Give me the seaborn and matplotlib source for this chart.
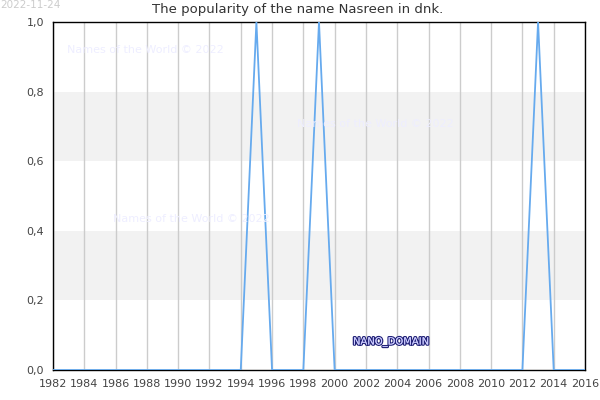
import matplotlib
matplotlib.use("Agg")
import matplotlib.pyplot as plt
import matplotlib.patheffects as pe
from matplotlib.ticker import FuncFormatter, MultipleLocator
import seaborn as sns
import pandas as pd

years = list(range(1982, 2017))
peak_years = [1995, 1999, 2013]
values = [1.0 if y in peak_years else 0.0 for y in years]

sns.set_style("white")
plt.rcParams['font.family'] = ['DejaVu Sans']

fig = plt.figure(figsize=(6, 4), dpi=100)
ax = fig.add_axes([0.0883, 0.075, 0.8867, 0.87])

for lo, hi in [(0.2, 0.4), (0.6, 0.8)]:
    ax.axhspan(lo, hi, color="#f2f2f2", zorder=0, lw=0)

df = pd.DataFrame({"year": years, "value": values})
sns.lineplot(data=df, x="year", y="value", ax=ax, color="#66aaee", lw=1.3, zorder=3)

ax.set_xlim(1982, 2016)
ax.set_ylim(0, 1.0)
ax.xaxis.set_major_locator(MultipleLocator(2))
ax.xaxis.set_minor_locator(MultipleLocator(1))
ax.yaxis.set_major_locator(MultipleLocator(0.2))
ax.yaxis.set_major_formatter(FuncFormatter(lambda v, p: f"{v:.1f}".replace(".", ",")))
ax.grid(axis="x", which="major", color="#cccccc", lw=1, zorder=1)
ax.set_axisbelow(True)
ax.tick_params(axis="both", which="major", labelsize=8, labelcolor="#444444", length=3, color="#cccccc")
ax.tick_params(axis="x", which="minor", length=2, color="#cccccc")
ax.set_xlabel("")
ax.set_ylabel("")
for s in ax.spines.values():
    s.set_color("black")
    s.set_linewidth(1)

fig.text(298/600, 1-10/400, "The popularity of the name Nasreen in dnk.", fontsize=9.5,
         color="#333333", ha="center", va="center")
fig.text(0.0, 0.999, "2022-11-24", fontsize=7.5, color="#cccccc", ha="left", va="top")

wm = "#eeeeff"
fig.text(67/600, 1-50/400, "Names of the World © 2022", fontsize=8, color=wm, ha="left", va="center")
fig.text(297/600, 1-124/400, "Names of the World © 2022", fontsize=8, color=wm, ha="left", va="center")
fig.text(113/600, 1-219/400, "Names of the World © 2022", fontsize=8, color=wm, ha="left", va="center")

t = fig.text(391/600, 1-342/400, "NANO_DOMAIN", fontsize=7.2, color="#ccccff", ha="center", va="center")
t.set_path_effects([pe.withStroke(linewidth=1.8, foreground="#222277"), pe.Normal()])

fig.savefig("out.png", dpi=100)
